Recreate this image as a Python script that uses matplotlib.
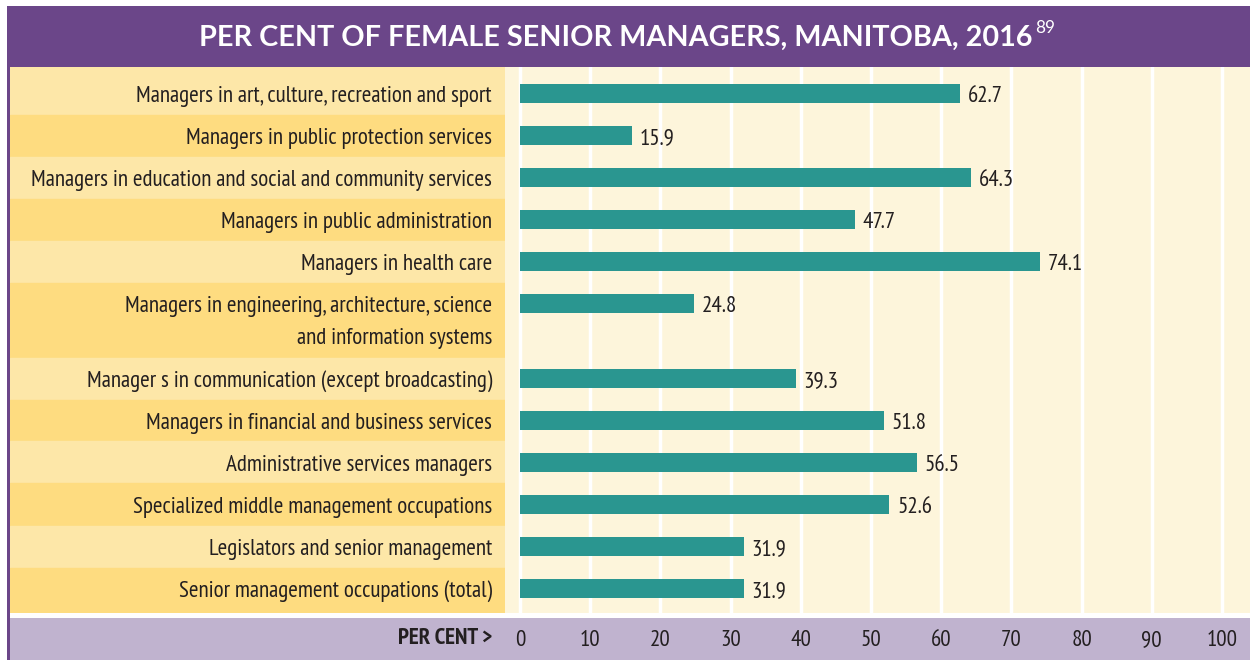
import matplotlib.pyplot as plt
from matplotlib import font_manager
from matplotlib.patches import Rectangle

# data
categories = [
    'Managers in art, culture, recreation and sport',
    'Managers in public protection services',
    'Managers in education and social and community services',
    'Managers in public administration',
    'Managers in health care',
    'Managers in engineering, architecture, science\nand information systems',
    'Manager s in communication (except broadcasting)',
    'Managers in financial and business services',
    'Administrative services managers',
    'Specialized middle management occupations',
    'Legislators and senior management',
    'Senior management occupations (total)',
]
values = [62.7, 15.9, 64.3, 47.7, 74.1, 24.8, 39.3, 51.8, 56.5, 52.6, 31.9, 31.9]
ticks = list(range(0, 101, 10))
title = 'PER CENT OF FEMALE SENIOR MANAGERS, MANITOBA, 2016'
note = '89'

PURPLE = '#6b4689'
LILAC = '#c0b3cf'
LIGHT = '#fde7a8'
DARK = '#fedc80'
CREAM = '#fdf5db'
TEAL = '#2a9690'
INK = '#231f20'

installed = {f.name for f in font_manager.fontManager.ttflist}


def pick(cands):
    for c in cands:
        if c in installed:
            return c
    return 'DejaVu Sans'


narrow = pick(['PT Sans Narrow', 'Archivo Narrow', 'Roboto Condensed', 'Fira Sans Condensed',
               'Asap Condensed', 'Open Sans Condensed'])
head = pick(['Lato', 'Open Sans'])
W, H = 1250, 660


def box(x0, y0, x1, y1):
    # pixel box (top-left origin) -> figure fraction rect
    return [x0 / W, 1 - y1 / H, (x1 - x0) / W, (y1 - y0) / H]


fig = plt.figure(figsize=(12.5, 6.6), dpi=100)
fig.patch.set_facecolor('white')
renderer = fig.canvas.get_renderer()


def fit_size(s, family, width_px, weight='normal', start=14.0):
    # font size that makes s about width_px wide
    t = fig.text(0, 0, s, fontsize=start, family=family, weight=weight)
    w = t.get_window_extent(renderer).width
    t.remove()
    return start * width_px / w


fs = fit_size('Managers in education and social and community services', narrow, 465)
tfs = fit_size(title, head, 833, weight='bold', start=18)

# frame pieces
for (x0, y0, x1, y1), c in [((7, 6, 1250, 67), PURPLE), ((7, 6, 10, 660), PURPLE),
                            ((10, 618, 1250, 660), LILAC)]:
    l, b, w, h = box(x0, y0, x1, y1)
    fig.add_artist(Rectangle((l, b), w, h, transform=fig.transFigure,
                             facecolor=c, edgecolor='none', zorder=-1))

# row positions: extra room after the two-line label
gap = 33 / 42
pos = []
y = 0.0
for lab in categories:
    pos.append(y)
    y += 1 + (gap if '\n' in lab else 0)
ytop = -26.5 / 42
ybot = pos[-1] + 24.5 / 42

ax = fig.add_axes(box(505, 67, 1250, 613))
lax = fig.add_axes(box(10, 67, 505, 613), sharey=ax)

ax.set_facecolor(CREAM)
ax.barh(pos, values, height=19 / 42, color=TEAL, zorder=3)
ax.set_xlim(-15 / 7.02, 730 / 7.02)
ax.set_ylim(ybot, ytop)
ax.set_xticks(ticks)
ax.set_xticklabels([str(t) for t in ticks], fontsize=fs, family=narrow, color=INK)
ax.tick_params(axis='x', length=0, pad=12)
ax.tick_params(axis='y', left=False, labelleft=False)
ax.grid(axis='x', color='white', linewidth=2.5, zorder=1)
ax.set_axisbelow(True)
for s in ax.spines.values():
    s.set_visible(False)

base = 8.5 / 42
for p, v in zip(pos, values):
    ax.text(v + 1.1, p + base, f'{v}', ha='left', va='baseline',
            fontsize=fs, family=narrow, color=INK, zorder=4)

# label column with alternating bands
lax.set_xlim(0, 1)
lax.set_axis_off()
for i, (p, lab) in enumerate(zip(pos, categories)):
    top = ytop if i == 0 else p - 0.5
    if i == len(pos) - 1:
        bot = ybot
    else:
        bot = p + 0.5 + (gap if '\n' in lab else 0)
    lax.axhspan(top, bot, color=LIGHT if i % 2 == 0 else DARK, zorder=0)
    for j, line in enumerate(lab.split('\n')):
        lax.text(482 / 495, p + base + j * 32 / 42, line, ha='right', va='baseline',
                 fontsize=fs, family=narrow, color=INK)

fig.text(492 / W, 1 - 644 / H, 'PER CENT >', ha='right', va='baseline',
         fontsize=fs, family=narrow, weight='bold', color=INK)

t = fig.text(616 / W, 1 - 46 / H, title, ha='center', va='baseline',
             fontsize=tfs, family=head, weight='bold', color='white')
bb = t.get_window_extent(renderer)
fig.text((bb.x1 + 2) / W, 1 - 33 / H, note, ha='left', va='baseline',
         fontsize=tfs * 0.6, family=head, color='white')

fig.savefig('out.png', dpi=100, facecolor='white')
